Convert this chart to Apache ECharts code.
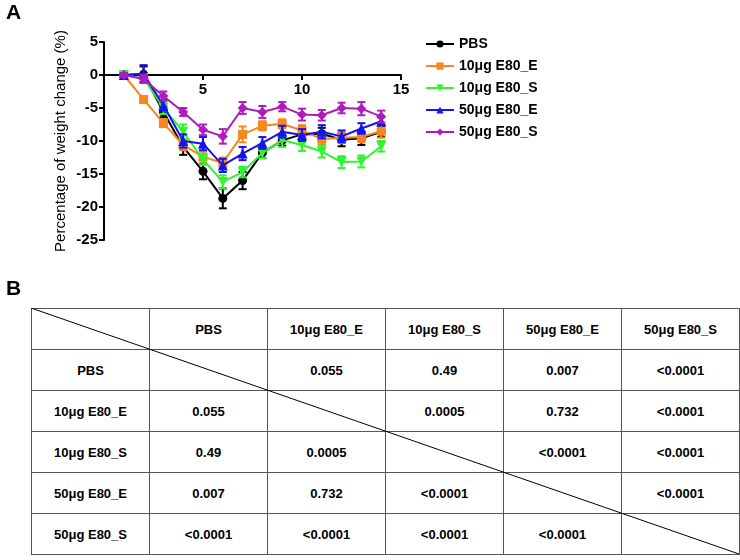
<!DOCTYPE html>
<html>
<head>
<meta charset="utf-8">
<script src="https://cdn.jsdelivr.net/npm/echarts@6/dist/echarts.min.js"></script>
<style>
  body { margin: 0; background: #fff; font-family: 'Liberation Sans', Arial, sans-serif; }
  .wrap { position: relative; width: 740px; height: 560px; }
  #chart { position: absolute; left: 0; top: 0; width: 740px; height: 290px; }
  .panel { position: absolute; font-weight: bold; font-size: 21px; }
  .p-table { position: absolute; left: 31px; top: 308px; border-collapse: collapse; }
  .p-table td {
    width: 117px; height: 40px; padding: 0;
    border: 1px solid #555; text-align: center; vertical-align: middle;
    font-weight: bold; font-size: 13px; color: #000;
  }
  .diag { position: absolute; left: 31px; top: 308px; pointer-events: none; }
</style>
</head>
<body>
<div class="wrap">
  <div id="chart"></div>
  <div class="panel" style="left:6px;top:0px">A</div>
  <div class="panel" style="left:6px;top:276px">B</div>
  <table class="p-table" id="ptable"></table>
  <svg class="diag" width="708" height="246"><line x1="0" y1="0" x2="708" y2="246" stroke="#000" stroke-width="1"/></svg>
</div>

<script>
// 天数
const days = [1, 2, 3, 4, 5, 6, 7, 8, 9, 10, 11, 12, 13, 14];
const groups = ['PBS', '10μg E80_E', '10μg E80_S', '50μg E80_E', '50μg E80_S'];

// 体重变化均值 (%)
const pbs   = [0, 0.1, -5.6, -10.9, -14.6, -18.7, -16.0, -11.8, -9.9, -9.0, -8.9, -9.8, -9.6, -8.6];
const e10E  = [0, -3.7, -7.3, -10.6, -12.4, -13.3, -9.0, -7.7, -7.4, -8.4, -9.7, -9.5, -9.4, -8.5];
const e10S  = [0, -0.5, -5.0, -8.6, -12.8, -16.2, -14.7, -11.8, -9.9, -10.6, -11.6, -13.2, -13.1, -10.8];
const e50E  = [0, 0.2, -4.6, -10.0, -10.4, -13.7, -11.9, -10.3, -8.6, -9.1, -8.6, -9.3, -8.1, -7.0];
const e50S  = [0, -0.6, -3.2, -5.6, -8.3, -9.3, -5.0, -5.6, -4.8, -6.0, -6.1, -5.0, -5.1, -6.3];

// 误差 (SEM)
const pbsErr  = [0.3, 1.2, 0.8, 1.2, 1.2, 1.5, 1.3, 0.8, 0.8, 0.9, 0.9, 1.0, 1.0, 0.8];
const e10EErr = [0.3, 0.5, 0.6, 0.8, 0.9, 0.8, 1.2, 0.7, 0.7, 0.8, 0.8, 0.8, 0.8, 1.0];
const e10SErr = [0.3, 0.6, 0.9, 1.1, 0.8, 1.0, 0.8, 0.8, 1.0, 0.9, 0.9, 0.9, 0.9, 0.8];
const e50EErr = [0.3, 1.3, 0.8, 1.0, 1.0, 1.0, 1.0, 0.9, 0.9, 0.9, 1.0, 0.9, 0.8, 0.6];
const e50SErr = [0.3, 0.6, 0.7, 0.6, 0.8, 1.1, 0.9, 0.9, 0.7, 0.9, 0.8, 0.8, 1.0, 0.9];

const yTicks = [5, 0, -5, -10, -15, -20, -25];
const xTicks = [5, 10, 15];

// P 值表
const tableHead = ['', 'PBS', '10μg E80_E', '10μg E80_S', '50μg E80_E', '50μg E80_S'];
const pPBS  = ['', '0.055', '0.49', '0.007', '<0.0001'];
const p10E  = ['0.055', '', '0.0005', '0.732', '<0.0001'];
const p10S  = ['0.49', '0.0005', '', '<0.0001', '<0.0001'];
const p50E  = ['0.007', '0.732', '<0.0001', '', '<0.0001'];
const p50S  = ['<0.0001', '<0.0001', '<0.0001', '<0.0001', ''];

const means = [pbs, e10E, e10S, e50E, e50S];
const errs = [pbsErr, e10EErr, e10SErr, e50EErr, e50SErr];
const colors = ['#000000', '#F7861E', '#2EF52E', '#1414F0', '#B01CBC'];
const symbols = ['circle', 'rect', 'triangle', 'triangle', 'diamond'];
const symbolRotate = [0, 0, 180, 0, 0];
const symbolSizes = [9, 9, 10, 10, 10];

var myChart = echarts.init(document.getElementById('chart'));

const getSeries = () => {
  const list = [];
  groups.forEach((name, i) => {
    // 误差线
    list.push({
      name: name + ' err',
      type: 'custom',
      silent: true,
      z: 2 + i,
      data: days.map((d, k) => [d, means[i][k] - errs[i][k], means[i][k] + errs[i][k]]),
      renderItem: (params, api) => {
        const lo = api.coord([api.value(0), api.value(1)]);
        const hi = api.coord([api.value(0), api.value(2)]);
        const cap = 4;
        const style = { stroke: colors[i], lineWidth: 2 };
        return {
          type: 'group',
          children: [
            { type: 'line', shape: { x1: lo[0], y1: lo[1], x2: hi[0], y2: hi[1] }, style },
            { type: 'line', shape: { x1: lo[0] - cap, y1: lo[1], x2: lo[0] + cap, y2: lo[1] }, style },
            { type: 'line', shape: { x1: hi[0] - cap, y1: hi[1], x2: hi[0] + cap, y2: hi[1] }, style }
          ]
        };
      }
    });
    list.push({
      name: name,
      type: 'line',
      z: 2 + i,
      data: days.map((d, k) => [d, means[i][k]]),
      symbol: symbols[i],
      symbolRotate: symbolRotate[i],
      symbolSize: symbolSizes[i],
      itemStyle: { color: colors[i] },
      lineStyle: { color: colors[i], width: 2 }
    });
  });
  return list;
};

const getOptions = () => {
  return {
    animation: false,
    textStyle: { fontFamily: 'Liberation Sans' },
    legend: {
      data: groups,
      orient: 'vertical',
      left: 420,
      top: 32,
      itemWidth: 28,
      itemHeight: 9,
      itemGap: 8,
      textStyle: { fontWeight: 'bold', fontSize: 14, color: '#000' }
    },
    grid: [
      { left: 104, right: 339, top: 42, bottom: 50 },
      // 只用于放 x 轴刻度标签（0 线下方）
      { left: 104, right: 339, top: 42, height: 33 }
    ],
    xAxis: [
      {
        type: 'value',
        min: 0,
        max: 15,
        interval: 5,
        splitLine: { show: false },
        axisLine: { onZero: true, lineStyle: { color: '#000', width: 2 } },
        axisTick: { show: true, length: 5, lineStyle: { color: '#000', width: 2 } },
        axisLabel: { show: false }
      },
      {
        type: 'value',
        gridIndex: 1,
        min: 0,
        max: 15,
        interval: 5,
        splitLine: { show: false },
        axisLine: { show: false },
        axisTick: { show: false },
        axisLabel: {
          color: '#000',
          fontWeight: 'bold',
          fontSize: 15,
          margin: 7,
          formatter: val => (xTicks.indexOf(val) >= 0 ? String(val) : '')
        }
      }
    ],
    yAxis: [
      {
        type: 'value',
        min: -25,
        max: 5,
        interval: 5,
        name: 'Percentage of weight change (%)',
        nameLocation: 'middle',
        nameGap: 36,
        nameTextStyle: { color: '#000', fontSize: 15 },
        splitLine: { show: false },
        axisLine: { onZero: false, lineStyle: { color: '#000', width: 2 } },
        axisTick: { show: true, length: 5, lineStyle: { color: '#000', width: 2 } },
        axisLabel: {
          color: '#000',
          fontWeight: 'bold',
          fontSize: 15,
          margin: 6,
          formatter: val => (yTicks.indexOf(val) >= 0 ? String(val) : '')
        }
      },
      { type: 'value', gridIndex: 1, show: false, min: 0, max: 1 }
    ],
    series: getSeries()
  };
};

myChart.setOption(getOptions(), true);

// 表格
const table = document.getElementById('ptable');
const rows = [pPBS, p10E, p10S, p50E, p50S];
let html = '<tr>' + tableHead.map(h => '<td>' + h + '</td>').join('') + '</tr>';
rows.forEach((r, i) => {
  html += '<tr><td>' + groups[i] + '</td>' + r.map(v => '<td>' + v.replace('<', '&lt;') + '</td>').join('') + '</tr>';
});
table.innerHTML = html;
</script>
</body>
</html>
